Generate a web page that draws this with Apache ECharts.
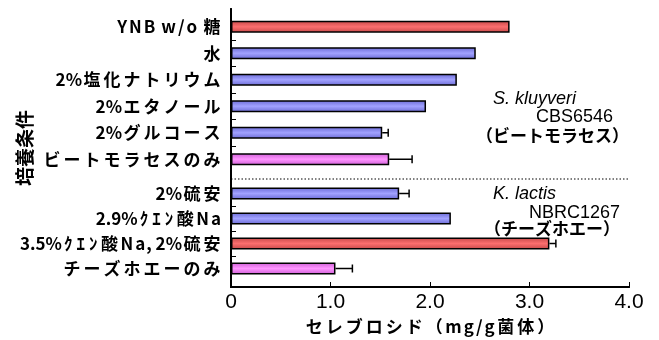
<!DOCTYPE html>
<html>
<head>
<meta charset="utf-8">
<script src="https://cdn.jsdelivr.net/npm/echarts@6/dist/echarts.min.js"></script>
<style>
  html, body { margin: 0; padding: 0; background: #fff; }
  #chart { width: 659px; height: 340px; }
</style>
</head>
<body>
<div id="chart"></div>
<script>
// S. kluyveri CBS6546 (beet molasses) culture conditions
const topCategories = ['YNB w/o 糖', '水', '2%塩化ナトリウム', '2%エタノール', '2%グルコース', 'ビートモラセスのみ'];
const topValues = [2.80, 2.46, 2.27, 1.96, 1.52, 1.59];
const topErrors = [null, null, null, null, 0.06, 0.23];

// K. lactis NBRC1267 (cheese whey) culture conditions
const bottomCategories = ['2%硫安', '2.9%ｸｴﾝ酸Na', '3.5%ｸｴﾝ酸Na, 2%硫安', 'チーズホエーのみ'];
const bottomValues = [1.69, 2.21, 3.20, 1.05];
const bottomErrors = [0.10, null, 0.065, 0.17];

const xTickLabels = ['0', '1.0', '2.0', '3.0', '4.0'];
const xMin = 0, xMax = 4, xStep = 1;

const yTitle = '培養条件';
const xTitle = 'セレブロシド（mg/g菌体）';

// ---- styling ----
const FONT = '"Noto Sans CJK JP", "Noto Sans", sans-serif';
const LATIN = '"Liberation Sans", Arial, sans-serif';
const fills = {
  red:  ['#c44848', '#fb6e6e'],
  blue: ['#6a6ad4', '#a2a2ff'],
  pink: ['#cc5ed4', '#ff94ff']
};
// highlighted bars: minimal medium and best condition; pink: raw medium only
const barTone = {
  'YNB w/o 糖': 'red',
  '3.5%ｸｴﾝ酸Na, 2%硫安': 'red',
  'ビートモラセスのみ': 'pink',
  'チーズホエーのみ': 'pink'
};
function gradient(tone) {
  const c = fills[tone];
  return new echarts.graphic.LinearGradient(0, 0, 0, 1, [
    { offset: 0, color: c[0] },
    { offset: 0.5, color: c[1] },
    { offset: 1, color: c[0] }
  ]);
}
function barData(cats, vals) {
  return vals.map((v, i) => ({
    value: v,
    itemStyle: { color: gradient(barTone[cats[i]] || 'blue') }
  }));
}
function errData(vals, errs) {
  const out = [];
  vals.forEach((v, i) => { if (errs[i] != null) out.push([v, i, errs[i]]); });
  return out;
}

// fixed-pitch cells for full-width and half-width kana, a little tracking on
// Latin letters, so labels set like a monospaced gothic face
function charClass(ch) {
  const c = ch.codePointAt(0);
  if (c >= 0xFF61 && c <= 0xFF9F) return 'h';
  if (c >= 0x3000) return 'w';
  if (/[A-Za-z\/]/.test(ch)) return 'l';
  return 'a';
}
function cellText(s) {
  return Array.from(s).map((ch) => '{' + charClass(ch) + '|' + ch + '}').join('');
}
const labelBase = { fontFamily: FONT, fontSize: 17, fontWeight: 'bold', color: '#000' };
const labelRich = {
  a: { ...labelBase },
  l: { ...labelBase, padding: [0, 1, 0, 1] },
  w: { ...labelBase, width: 20, align: 'center' },
  h: { ...labelBase, width: 12.5, align: 'center' }
};

function errorRender(params, api) {
  const v = api.value(0), idx = api.value(1), e = api.value(2);
  const p0 = api.coord([v, idx]);
  const p1 = api.coord([v + e, idx]);
  const cap = 4;
  return {
    type: 'group',
    children: [
      { type: 'line', shape: { x1: p0[0], y1: p0[1], x2: p1[0], y2: p1[1] },
        style: { stroke: '#000', lineWidth: 1.5 } },
      { type: 'line', shape: { x1: p1[0], y1: p1[1] - cap, x2: p1[0], y2: p1[1] + cap },
        style: { stroke: '#000', lineWidth: 1.5 } }
    ]
  };
}

const L = 231, W = 398;
const frameTop = 9, frameH = 278;
const topGrid = { top: 13.5, height: 159 };
const botGrid = { top: 181, height: 100 };
const sepY = 179;

const frameLine = { show: true, lineStyle: { color: '#000', width: 2 } };
const bare = { axisTick: { show: false }, axisLabel: { show: false }, splitLine: { show: false } };

const hiddenX = (gi) => ({
  type: 'value', gridIndex: gi, min: xMin, max: xMax, interval: xStep, show: false
});
const catAxis = (gi, cats) => ({
  type: 'category', gridIndex: gi, data: cats, inverse: true, position: 'left',
  axisLine: { show: false }, axisTick: { show: false },
  axisLabel: { margin: 9, ...labelBase, formatter: cellText, rich: labelRich }
});
const tickAxis = (gi, n) => ({
  type: 'value', gridIndex: gi, min: 0, max: n, interval: 1, inverse: true, position: 'left',
  axisLine: { show: false }, axisLabel: { show: false }, splitLine: { show: false },
  axisTick: {
    show: true, inside: true, length: 5, lineStyle: { color: '#000', width: 1 },
    customValues: Array.from({ length: n - 1 }, (_, k) => k + 1)
  }
});

const chart = echarts.init(document.getElementById('chart'), null, { renderer: 'canvas' });
chart.setOption({
  backgroundColor: '#fff',
  animation: false,
  grid: [
    { left: L, width: W, top: frameTop, height: frameH },
    { left: L, width: W, top: topGrid.top, height: topGrid.height },
    { left: L, width: W, top: botGrid.top, height: botGrid.height }
  ],
  xAxis: [
    {
      type: 'value', gridIndex: 0, min: xMin, max: xMax, interval: xStep, position: 'bottom',
      axisLine: frameLine,
      axisTick: { show: true, inside: true, length: 5, lineStyle: { color: '#000', width: 1 } },
      splitLine: { show: false },
      axisLabel: {
        margin: 5, color: '#000', fontFamily: LATIN, fontSize: 21,
        formatter: (v) => xTickLabels[Math.round((v - xMin) / xStep)]
      },
      name: cellText(xTitle), nameLocation: 'middle', nameGap: 29,
      nameTextStyle: { ...labelBase, rich: labelRich }
    },
    { type: 'value', gridIndex: 0, min: xMin, max: xMax, position: 'top', axisLine: frameLine, ...bare },
    hiddenX(1),
    hiddenX(2)
  ],
  yAxis: [
    {
      type: 'value', gridIndex: 0, min: 0, max: 1, position: 'left',
      axisLine: frameLine, ...bare,
      name: yTitle, nameLocation: 'middle', nameRotate: 90, nameGap: 197,
      nameTextStyle: { color: '#000', fontFamily: FONT, fontSize: 19, fontWeight: 'bold' }
    },
    { type: 'value', gridIndex: 0, min: 0, max: 1, position: 'right', axisLine: frameLine, ...bare },
    catAxis(1, topCategories),
    catAxis(2, bottomCategories),
    tickAxis(1, topCategories.length),
    tickAxis(2, bottomCategories.length)
  ],
  series: [
    {
      type: 'bar', xAxisIndex: 2, yAxisIndex: 2, barWidth: 12,
      data: barData(topCategories, topValues),
      itemStyle: { borderColor: '#000', borderWidth: 1.5 }
    },
    {
      type: 'bar', xAxisIndex: 3, yAxisIndex: 3, barWidth: 12,
      data: barData(bottomCategories, bottomValues),
      itemStyle: { borderColor: '#000', borderWidth: 1.5 }
    },
    {
      type: 'custom', xAxisIndex: 2, yAxisIndex: 2, renderItem: errorRender,
      encode: { x: 0, y: 1 }, data: errData(topValues, topErrors), z: 5
    },
    {
      type: 'custom', xAxisIndex: 3, yAxisIndex: 3, renderItem: errorRender,
      encode: { x: 0, y: 1 }, data: errData(bottomValues, bottomErrors), z: 5
    }
  ],
  graphic: [
    {
      type: 'line', shape: { x1: L, y1: sepY, x2: L + W, y2: sepY },
      style: { stroke: '#000', lineWidth: 1, lineDash: [1.5, 2] }
    },
    { type: 'text', x: 493, y: 99, style: { text: 'S. kluyveri', fontFamily: LATIN, fontSize: 18, fontStyle: 'italic', fill: '#000', verticalAlign: 'middle' } },
    { type: 'text', x: 613, y: 117.5, style: { text: 'CBS6546', fontFamily: LATIN, fontSize: 18, fill: '#000', align: 'right', verticalAlign: 'middle' } },
    { type: 'text', x: 629, y: 136, style: { text: '（ビートモラセス）', fontFamily: FONT, fontSize: 17, fontWeight: 'bold', fill: '#000', align: 'right', verticalAlign: 'middle' } },
    { type: 'text', x: 493, y: 194, style: { text: 'K. lactis', fontFamily: LATIN, fontSize: 18, fontStyle: 'italic', fill: '#000', verticalAlign: 'middle' } },
    { type: 'text', x: 620, y: 213, style: { text: 'NBRC1267', fontFamily: LATIN, fontSize: 18, fill: '#000', align: 'right', verticalAlign: 'middle' } },
    { type: 'text', x: 620, y: 229, style: { text: '（チーズホエー）', fontFamily: FONT, fontSize: 17, fontWeight: 'bold', fill: '#000', align: 'right', verticalAlign: 'middle' } }
  ]
});
</script>
</body>
</html>
